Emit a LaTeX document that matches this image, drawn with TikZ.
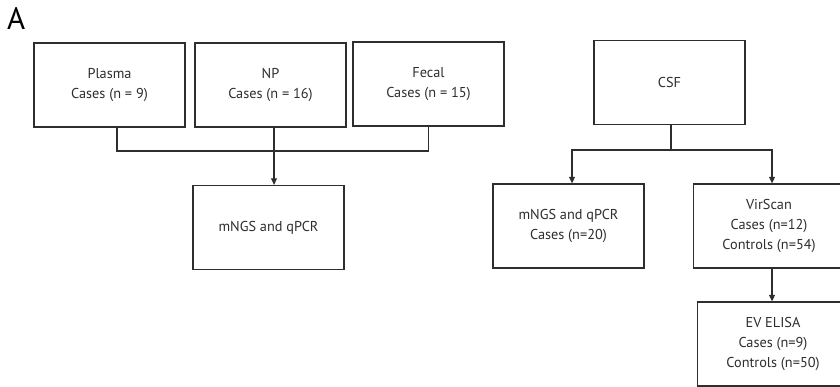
\documentclass[tikz,border=0pt]{standalone}
\usepackage{fontspec}
\setmainfont{PT Sans}
\usetikzlibrary{arrows.meta}
\definecolor{ink}{HTML}{2E2E2E}
\begin{document}
\begin{tikzpicture}[x=1pt,y=-1pt,
  box/.style={draw=ink, line width=1.3pt, minimum width=151pt, minimum height=84pt, inner sep=0pt, align=center, text=ink, font=\fontsize{14.3}{20.3}\selectfont},
  conn/.style={draw=ink, line width=1.2pt},
  arr/.style={conn, -{Triangle[length=6.5pt,width=6pt]}}]
\useasboundingbox (0,0) rectangle (840,387);
\clip (0,0) rectangle (840,387);
\fill[white] (0,0) rectangle (840,387);
\node[text=black, font=\fontsize{31}{31}\selectfont, anchor=base west, inner sep=0pt] (lab) at (7,30) {A};
\node[box] (plasma) at (109.5,85) {Plasma\\Cases (n = 9)};
\node[box] (np) at (270.5,85) {NP\\Cases (n = 16)};
\node[box] (fecal) at (428.5,84) {Fecal\\Cases (n = 15)};
\node[box] (mngsa) at (268.5,227.5) {mNGS and qPCR};
\node[box] (csf) at (669.5,82.5) {CSF};
\node[box] (mngsb) at (568.5,226) {mNGS and qPCR\\Cases (n=20)};
\node[box] (vir) at (769,226) {VirScan\\Cases (n=12)\\Controls (n=54)};
\node[box] (ev) at (773,344) {EV ELISA\\Cases (n=9)\\Controls (n=50)};
\coordinate (j1) at (274,151);
\coordinate (j2) at (671,150);
\draw[conn] ([xshift=7.5pt]plasma.south) |- (j1) -| (fecal.south);
\draw[arr] ([xshift=3.5pt]np.south) -- ([xshift=3.5pt]np.south |- mngsa.north);
\draw[conn] ([xshift=1.5pt]csf.south) -- (j2);
\draw[arr] (j2) -| ([xshift=3.5pt]mngsb.north);
\draw[arr] (j2) -| ([xshift=3pt]vir.north);
\draw[arr] ([xshift=3pt]vir.south) -- ([xshift=3pt]vir.south |- ev.north);
\end{tikzpicture}
\end{document}
